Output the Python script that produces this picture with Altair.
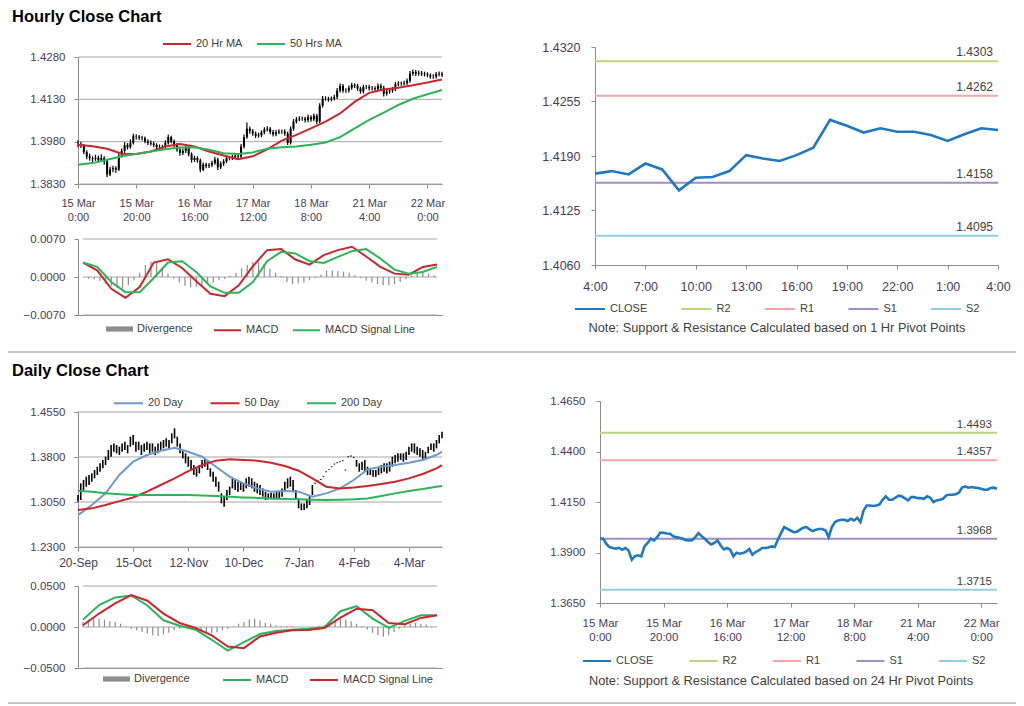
import altair as alt
import pandas as pd

FONT = "Liberation Sans"
AX = "#8c8c8c"
GR = "#a6a6a6"
LC = "#4a3c5c"
TC = "#404040"

TITLE_H = "Hourly Close Chart"
TITLE_D = "Daily Close Chart"
NOTE_H = "Note: Support & Resistance Calculated based on 1 Hr Pivot Points"
NOTE_D = "Note: Support & Resistance Calculated based on 24 Hr Pivot Points"

# ---------------- hourly bars (15 Mar 0:00 ... 22 Mar) ----------------
H_CLOSE = [1.3969,1.3968,1.3943,1.3927,1.3922,1.3919,1.3923,1.3914,1.3922,1.3910,
           1.3864,1.3882,1.3886,1.3881,1.3930,1.3947,1.3968,1.3960,1.3976,1.3999,
           1.3998,1.3994,1.3993,1.3981,1.3976,1.3973,1.3968,1.3961,1.3960,1.3961,
           1.3976,1.3996,1.3981,1.3968,1.3952,1.3940,1.3947,1.3960,1.3935,1.3915,
           1.3922,1.3914,1.3881,1.3899,1.3894,1.3897,1.3904,1.3917,1.3889,1.3902,
           1.3910,1.3922,1.3922,1.3925,1.3930,1.3927,1.3963,1.3996,1.4026,1.4017,
           1.4009,1.4001,1.4003,1.4013,1.4023,1.4026,1.4014,1.4006,1.4013,1.4016,
           1.4016,1.4009,1.3976,1.4026,1.4051,1.4059,1.4062,1.4062,1.4056,1.4067,
           1.4059,1.4072,1.4051,1.4108,1.4133,1.4133,1.4130,1.4133,1.4138,1.4161,
           1.4178,1.4161,1.4161,1.4171,1.4181,1.4178,1.4168,1.4158,1.4174,1.4174,
           1.4169,1.4169,1.4166,1.4178,1.4171,1.4150,1.4158,1.4161,1.4166,1.4183,
           1.4186,1.4186,1.4188,1.4196,1.4221,1.4227,1.4221,1.4224,1.4221,1.4219,
           1.4216,1.4211,1.4211,1.4219,1.4221,1.4216]
H_HIGH = [1.3985,1.3980,1.3972,1.3950,1.3938,1.3930,1.3934,1.3931,1.3935,1.3928,
          1.3915,1.3890,1.3895,1.3893,1.3938,1.3956,1.3978,1.3975,1.3988,1.4008,
          1.4006,1.4004,1.4001,1.3998,1.3989,1.3984,1.3980,1.3974,1.3970,1.3969,
          1.3985,1.4005,1.4001,1.3988,1.3975,1.3958,1.3955,1.3968,1.3966,1.3942,
          1.3930,1.3928,1.3920,1.3906,1.3905,1.3904,1.3912,1.3926,1.3923,1.3910,
          1.3918,1.3930,1.3929,1.3933,1.3938,1.3936,1.3972,1.4005,1.4048,1.4034,
          1.4025,1.4016,1.4012,1.4020,1.4031,1.4035,1.4032,1.4021,1.4021,1.4024,
          1.4023,1.4024,1.4015,1.4034,1.4060,1.4067,1.4070,1.4069,1.4068,1.4076,
          1.4074,1.4080,1.4078,1.4116,1.4142,1.4141,1.4139,1.4140,1.4146,1.4170,
          1.4186,1.4184,1.4169,1.4179,1.4189,1.4187,1.4185,1.4175,1.4182,1.4181,
          1.4182,1.4177,1.4176,1.4186,1.4185,1.4178,1.4166,1.4169,1.4174,1.4192,
          1.4194,1.4193,1.4196,1.4204,1.4230,1.4236,1.4234,1.4232,1.4230,1.4228,
          1.4226,1.4222,1.4219,1.4227,1.4229,1.4228]
H_LOW = [1.3960,1.3958,1.3936,1.3918,1.3912,1.3908,1.3912,1.3905,1.3908,1.3898,
         1.3855,1.3858,1.3872,1.3870,1.3876,1.3924,1.3940,1.3952,1.3955,1.3970,
         1.3988,1.3986,1.3984,1.3974,1.3968,1.3966,1.3960,1.3953,1.3951,1.3952,
         1.3956,1.3970,1.3974,1.3960,1.3944,1.3930,1.3933,1.3940,1.3928,1.3906,
         1.3908,1.3905,1.3872,1.3875,1.3886,1.3887,1.3890,1.3898,1.3880,1.3883,
         1.3895,1.3904,1.3914,1.3915,1.3918,1.3920,1.3922,1.3956,1.3990,1.4008,
         1.4001,1.3993,1.3994,1.3996,1.4006,1.4016,1.4006,1.3998,1.3999,1.4006,
         1.4008,1.4001,1.3968,1.3970,1.4019,1.4044,1.4052,1.4054,1.4048,1.4049,
         1.4051,1.4052,1.4043,1.4045,1.4101,1.4125,1.4122,1.4123,1.4126,1.4131,
         1.4154,1.4153,1.4153,1.4154,1.4164,1.4170,1.4160,1.4150,1.4151,1.4166,
         1.4161,1.4161,1.4158,1.4159,1.4163,1.4140,1.4143,1.4150,1.4153,1.4159,
         1.4176,1.4178,1.4179,1.4181,1.4189,1.4214,1.4213,1.4214,1.4213,1.4211,
         1.4208,1.4203,1.4203,1.4204,1.4212,1.4209]
H_TICK_POS = [0, 20, 40, 60, 80, 100, 120]
H_TICK_DAY = ["15 Mar", "15 Mar", "16 Mar", "17 Mar", "18 Mar", "21 Mar", "22 Mar"]
H_TICK_TIME = ["0:00", "20:00", "16:00", "12:00", "8:00", "4:00", "0:00"]

H_MA_POS = list(range(0, 126, 5))
H_MA20 = [1.3969,1.3964,1.3955,1.3937,1.3936,1.3945,1.3963,1.3972,1.3963,1.3945,1.3931,1.3918,1.3928,
          1.3953,1.3984,1.4004,1.4027,1.4051,1.4080,1.4121,1.4153,1.4165,1.4171,1.4180,1.4190,1.4200]
H_MA50 = [1.3898,1.3904,1.3916,1.3928,1.3936,1.3945,1.3953,1.3959,1.3960,1.3951,1.3939,1.3936,1.3942,
          1.3955,1.3960,1.3963,1.3969,1.3977,1.3996,1.4027,1.4057,1.4083,1.4110,1.4132,1.4148,1.4163]

H_MACD_POS = list(range(0, 126, 5))
H_MACD = [0.00266,0.00124,-0.00217,-0.00384,-0.00186,0.00266,0.00328,0.00167,-0.00080,-0.00310,-0.00353,
          -0.00155,0.00198,0.00495,0.00514,0.00322,0.00229,0.00402,0.00495,0.00557,0.00378,0.00186,
          0.00062,0.00043,0.00186,0.00229]
H_SIGNAL = [0.00266,0.00186,-0.00093,-0.00279,-0.00279,-0.00019,0.00266,0.00291,0.00093,-0.00173,-0.00291,
            -0.00291,-0.00093,0.00291,0.00464,0.00433,0.00291,0.00260,0.00371,0.00477,0.00514,0.00340,
            0.00136,0.00062,0.00093,0.00186]
H_DIV = [0,-0.0003,-0.0004,-0.0007,-0.0012,-0.0016,-0.0020,-0.0021,-0.0015,-0.0006,0.0008,0.0022,0.0028,
         0.0029,0.0018,0.0006,-0.0003,-0.0010,-0.0016,-0.0019,-0.0018,-0.0015,-0.0013,-0.0010,-0.0006,
         -0.0003,0.0002,0.0008,0.0016,0.0022,0.0027,0.0028,0.0024,0.0015,0.0008,0.0002,-0.0009,-0.0013,
         -0.0012,-0.0010,-0.0006,-0.0002,0.0004,0.0012,0.0012,0.0011,0.0010,0.0008,0.0003,-0.0002,-0.0007,
         -0.0010,-0.0013,-0.0015,-0.0015,-0.0013,-0.0009,-0.0004,0.0003,0.0007,0.0008,0.0006,0.0003]

# ---------------- last 25 hours with pivots ----------------
L_CLOSE = [1.4169,1.4172,1.4168,1.4181,1.4174,1.4149,1.4164,1.4165,1.4172,1.4191,1.4187,1.4184,1.4191,
           1.4200,1.4233,1.4226,1.4218,1.4223,1.4219,1.4219,1.4215,1.4208,1.4216,1.4223,1.4221]
L_TICK_POS = [0, 3, 6, 9, 12, 15, 18, 21, 24]
L_TICK_LABELS = ["4:00", "7:00", "10:00", "13:00", "16:00", "19:00", "22:00", "1:00", "4:00"]
LEVEL_NAMES = ["R2", "R1", "S1", "S2"]
L_LEVELS = [1.4303, 1.4262, 1.4158, 1.4095]
P_LEVELS = [1.4493, 1.4357, 1.3968, 1.3715]
SERIES_LVL = ["CLOSE", "R2", "R1", "S1", "S2"]
COLORS_LVL = ["#1f78c1", "#b9d77e", "#f2a7a7", "#a58cc6", "#8fd0e4"]

# ---------------- daily bars (20-Sep ... 22-Mar) ----------------
D_HIGH = [1.3166,1.3361,1.3416,1.3472,1.3500,1.3527,1.3583,1.3638,1.3694,1.3750,
          1.3805,1.3916,1.3999,1.4027,1.3999,1.3972,1.4027,1.4055,1.3999,1.4139,
          1.4166,1.4055,1.4055,1.3999,1.4027,1.4055,1.4027,1.4027,1.3972,1.4027,
          1.4055,1.4083,1.4111,1.4083,1.4194,1.4277,1.4139,1.4027,1.3916,1.3861,
          1.3805,1.3750,1.3666,1.3611,1.3666,1.3750,1.3777,1.3750,1.3611,1.3555,
          1.3472,1.3388,1.3194,1.3138,1.3249,1.3305,1.3444,1.3416,1.3388,1.3388,
          1.3361,1.3444,1.3472,1.3444,1.3388,1.3361,1.3333,1.3277,1.3222,1.3194,
          1.3205,1.3194,1.3222,1.3222,1.3277,1.3388,1.3444,1.3472,1.3416,1.3249,
          1.3110,1.3027,1.3027,1.3083,1.3166,1.3333,
          1.3369,1.3407,1.3435,1.3480,1.3563,1.3602,1.3646,1.3691,1.3713,1.3730,1.3747,1.3591,1.3813,1.3824,1.3802,
          1.3750,1.3694,1.3722,1.3750,1.3638,1.3611,1.3583,1.3583,1.3638,1.3666,
          1.3694,1.3694,1.3722,1.3805,1.3833,1.3861,1.3861,1.3861,1.3888,1.3972,
          1.4027,1.4027,1.3972,1.3944,1.3916,1.3888,1.3972,1.4027,1.4027,1.4083,
          1.4166,1.4222]
D_LOW = [1.3055,1.3083,1.3249,1.3305,1.3333,1.3388,1.3444,1.3500,1.3555,1.3611,
         1.3666,1.3750,1.3805,1.3888,1.3861,1.3833,1.3888,1.3916,1.3861,1.3972,
         1.3999,1.3888,1.3916,1.3833,1.3888,1.3916,1.3861,1.3888,1.3833,1.3861,
         1.3916,1.3944,1.3972,1.3944,1.4027,1.4111,1.3972,1.3861,1.3777,1.3694,
         1.3638,1.3583,1.3500,1.3472,1.3527,1.3611,1.3638,1.3583,1.3472,1.3388,
         1.3305,1.3222,1.3027,1.2971,1.3083,1.3166,1.3277,1.3249,1.3222,1.3249,
         1.3222,1.3277,1.3305,1.3277,1.3222,1.3194,1.3166,1.3138,1.3083,1.3094,
         1.3094,1.3094,1.3094,1.3110,1.3138,1.3222,1.3277,1.3305,1.3222,1.3083,
         1.2944,1.2916,1.2916,1.2944,1.2999,1.3166,
         1.3353,1.3391,1.3419,1.3464,1.3547,1.3586,1.3630,1.3675,1.3697,1.3714,1.3731,1.3575,1.3797,1.3808,1.3786,
         1.3638,1.3555,1.3583,1.3555,1.3500,1.3500,1.3472,1.3472,1.3500,1.3527,
         1.3555,1.3527,1.3555,1.3638,1.3694,1.3722,1.3750,1.3722,1.3750,1.3833,
         1.3888,1.3861,1.3833,1.3805,1.3750,1.3750,1.3861,1.3916,1.3888,1.3944,
         1.4027,1.4111]
D_TICK_POS = [0, 20, 40, 60, 80, 100, 120]
D_TICK_LABELS = ["20-Sep", "15-Oct", "12-Nov", "10-Dec", "7-Jan", "4-Feb", "4-Mar"]

D_MA_POS = list(range(0, 131, 5)) + [132]
D_MA20 = [1.2832,1.2999,1.3194,1.3500,1.3722,1.3833,1.3905,1.3955,1.3888,1.3805,1.3638,1.3472,1.3361,1.3277,
          1.3222,1.3233,1.3222,1.3138,1.3194,1.3277,1.3416,1.3594,1.3638,1.3666,1.3705,1.3750,1.3833,1.3888]
D_MA50 = [1.2916,1.2944,1.2999,1.3065,1.3126,1.3222,1.3333,1.3444,1.3566,1.3666,1.3739,1.3761,1.3750,1.3739,
          1.3705,1.3649,1.3571,1.3444,1.3305,1.3277,1.3293,1.3315,1.3349,1.3388,1.3444,1.3516,1.3611,1.3666]
D_MA200 = [1.3238,1.3222,1.3194,1.3180,1.3166,1.3166,1.3166,1.3166,1.3166,1.3158,1.3149,1.3138,1.3127,1.3118,
           1.3110,1.3102,1.3094,1.3088,1.3083,1.3088,1.3094,1.3110,1.3149,1.3194,1.3233,1.3266,1.3305,1.3316]

D_MACD_POS = list(range(0, 133, 6))
D_MACD = [0.0090,0.0267,0.0361,0.0385,0.0262,0.0082,0.0016,-0.0033,-0.0156,-0.0287,-0.0185,-0.0086,
          -0.0049,-0.0033,-0.0021,-0.0004,0.0193,0.0254,0.0103,-0.0012,0.0074,0.0144,0.0144]
D_SIGNAL = [0.0021,0.0164,0.0287,0.0390,0.0320,0.0164,0.0049,-0.0012,-0.0103,-0.0238,-0.0258,-0.0115,
            -0.0070,-0.0041,-0.0037,-0.0012,0.0115,0.0221,0.0205,0.0049,0.0033,0.0111,0.0144]
D_DIV = [0.006,0.009,0.010,0.010,0.009,0.007,0.006,0.004,0.001,-0.002,-0.004,-0.006,-0.008,-0.010,-0.011,
         -0.009,-0.007,-0.004,-0.002,-0.001,-0.001,-0.002,-0.004,-0.007,-0.008,-0.006,-0.004,-0.002,0.001,
         0.004,0.006,0.009,0.010,0.008,0.005,0.004,0.002,0.001,0.001,0.001,0.000,0.000,0.000,0.000,0.001,
         0.002,0.005,0.008,0.010,0.009,0.007,0.004,0.001,-0.003,-0.007,-0.010,-0.012,-0.010,-0.006,-0.002,
         0.002,0.004,0.005,0.004,0.003,0.001,0.000]

RED = "#c8282d"
GREEN = "#2eb35a"
BLUE_MA = "#6e9acd"
DIV_C = "#8c8c8c"
RECT_PATH = "M-1,-0.19H1V0.19H-1Z"

W, H = 1008, 696   # whole canvas (page minus 8px margin)


def label_expr(pos, labels):
    parts = []
    for p, lab in zip(pos, labels):
        if isinstance(lab, (list, tuple)):
            txt = "[" + ",".join("'%s'" % s for s in lab) + "]"
        else:
            txt = "'%s'" % lab
        parts.append("datum.value == %d ? %s : " % (p, txt))
    return "".join(parts) + "''"


def x_axis(pos, labels, size, pad, bottom, line_height=None):
    kw = dict(orient="bottom", offset=-(H - bottom), values=pos, labelExpr=label_expr(pos, labels),
              labelFontSize=size, labelPadding=pad, labelColor=LC, labelFont=FONT, tickSize=4,
              tickColor=AX, domainColor=AX, grid=False, title=None, labelFlush=False,
              labelOverlap=False, labelAngle=0, labelBound=False)
    if line_height:
        kw["labelLineHeight"] = line_height
    return alt.Axis(**kw)


def x_plain(bottom):
    return alt.Axis(orient="bottom", offset=-(H - bottom), labels=False, ticks=False, grid=False,
                    domainColor=AX, title=None)


def y_axis(values, size, pad, left):
    return alt.Axis(orient="left", offset=-left, values=values, format=".4f", labelFontSize=size,
                    labelPadding=pad, labelColor=LC, labelFont=FONT, tickSize=4, tickColor=AX,
                    domainColor=AX, grid=False, title=None, labelFlush=False, labelOverlap=False)


def line_legend(x, y, size, pad):
    return alt.Legend(orient="none", legendX=x, legendY=y, direction="horizontal", symbolType="stroke",
                      symbolSize=size, symbolStrokeWidth=2, labelFontSize=11, labelFont=FONT,
                      labelColor=TC, columnPadding=pad, labelOffset=4, padding=0, title=None)


def fill_legend(x, y):
    return alt.Legend(orient="none", legendX=x, legendY=y, direction="horizontal", symbolType=RECT_PATH,
                      symbolSize=729, symbolStrokeWidth=0, labelFontSize=11, labelFont=FONT,
                      labelColor=TC, labelOffset=4, padding=0, title=None)


def grid_layer(values, xmax, xs, ys, xa, ya):
    g = pd.DataFrame({"g": values, "x0": 0, "x1": xmax})
    return alt.Chart(g).mark_rule(color=GR, strokeWidth=1).encode(
        x=alt.X("x0:Q", scale=xs, axis=xa), x2="x1:Q", y=alt.Y("g:Q", scale=ys, axis=ya))


def price_panel(high, low, close, xmax, xr, ydom, yr, yvals, xa, ma_pos, ma_series, ma_names,
                ma_colors, leg, wick_w):
    n = len(high)
    xs = alt.Scale(domain=[0, xmax], range=xr, nice=False, zero=False)
    ys = alt.Scale(domain=ydom, range=yr, nice=False, zero=False)
    ya = y_axis(yvals, 11.5, 9, xr[0])
    df = pd.DataFrame({"i": list(range(n)), "high": high, "low": low})
    layers = [grid_layer(yvals, xmax, xs, ys, xa, ya),
              alt.Chart(df).mark_rule(color="black", strokeWidth=wick_w).encode(
                  x=alt.X("i:Q", scale=xs, axis=xa), y=alt.Y("low:Q", scale=ys, axis=ya), y2="high:Q")]
    if close is not None:
        bdf = pd.DataFrame({"i": list(range(n)), "c": close})
        bdf["o"] = bdf["c"].shift(1).fillna(bdf["c"])
        layers.append(alt.Chart(bdf).mark_rule(color="black", strokeWidth=2).encode(
            x=alt.X("i:Q", scale=xs, axis=xa), y=alt.Y("o:Q", scale=ys, axis=ya), y2="c:Q"))
    rows = []
    for name, vals in zip(ma_names, ma_series):
        for p, v in zip(ma_pos, vals):
            rows.append({"i": p, "v": v, "s": name})
    layers.append(alt.Chart(pd.DataFrame(rows)).mark_line(strokeWidth=2).encode(
        x=alt.X("i:Q", scale=xs, axis=xa), y=alt.Y("v:Q", scale=ys, axis=ya),
        color=alt.Color("s:N", scale=alt.Scale(domain=ma_names, range=ma_colors), legend=leg)))
    return alt.layer(*layers)


def macd_panel(pos, macd, sig, div_vals, xmax, xr, lim, yr, names, colors, fill_leg, color_leg):
    xs = alt.Scale(domain=[0, xmax], range=xr, nice=False, zero=False)
    ys = alt.Scale(domain=[-lim, lim], range=yr, nice=False, zero=False)
    xa = x_plain(yr[0])
    ya = y_axis([-lim, 0, lim], 11.5, 9, xr[0])
    ddf = pd.DataFrame({"i": list(range(0, 2 * len(div_vals), 2)), "dv": div_vals, "n": "Divergence"})
    rows = []
    for name, vals in zip(names, [macd, sig]):
        for p, v in zip(pos, vals):
            rows.append({"i": p, "v": v, "s": name})
    bars = alt.Chart(ddf).mark_bar(size=1.2).encode(
        x=alt.X("i:Q", scale=xs, axis=xa), y=alt.Y("dv:Q", scale=ys, axis=ya), y2=alt.datum(0),
        fill=alt.Fill("n:N", scale=alt.Scale(domain=["Divergence"], range=[DIV_C]), legend=fill_leg))
    lines = alt.Chart(pd.DataFrame(rows)).mark_line(strokeWidth=2).encode(
        x=alt.X("i:Q", scale=xs, axis=xa), y=alt.Y("v:Q", scale=ys, axis=ya),
        color=alt.Color("s:N", scale=alt.Scale(domain=names, range=colors), legend=color_leg))
    return alt.layer(grid_layer([-lim, 0, lim], xmax, xs, ys, xa, ya), bars, lines)


def pivot_panel(close, levels, xmax, xr, ydom, yr, yvals, xa, ysize, lsize, leg):
    xs = alt.Scale(domain=[0, xmax], range=xr, nice=False, zero=False)
    ys = alt.Scale(domain=ydom, range=yr, nice=False, zero=False)
    ya = alt.Axis(orient="left", offset=-xr[0], values=yvals, format=".4f", labelFontSize=ysize,
                  labelPadding=11, labelColor=LC, labelFont=FONT, tickSize=4, tickColor=AX,
                  domainColor=AX, grid=False, title=None, labelFlush=False, labelOverlap=False)
    cs = alt.Scale(domain=SERIES_LVL, range=COLORS_LVL)
    cdf = pd.DataFrame({"i": list(range(len(close))), "v": close, "s": "CLOSE"})
    ldf = pd.DataFrame({"s": LEVEL_NAMES, "v": levels})
    ldf["label"] = ldf["v"].map(lambda x: "%.4f" % x)
    ldf["x0"] = 0
    ldf["x1"] = xmax
    rules = alt.Chart(ldf).mark_rule(strokeWidth=2).encode(
        x=alt.X("x0:Q", scale=xs, axis=xa), x2="x1:Q",
        y=alt.Y("v:Q", scale=ys, axis=ya), color=alt.Color("s:N", scale=cs, legend=leg))
    line = alt.Chart(cdf).mark_line(strokeWidth=2.6).encode(
        x=alt.X("i:Q", scale=xs, axis=xa), y=alt.Y("v:Q", scale=ys, axis=ya),
        color=alt.Color("s:N", scale=cs, legend=leg))
    texts = alt.Chart(ldf).mark_text(align="right", baseline="alphabetic", dx=-5, dy=-5, fontSize=lsize,
                                     font=FONT, color=TC).encode(
        x=alt.X("x1:Q", scale=xs, axis=xa), y=alt.Y("v:Q", scale=ys, axis=ya), text="label:N")
    return alt.layer(rules, line, texts)


def text_at(t, x, y, size, weight="normal", align="left", baseline="top", color="black"):
    return alt.Chart(pd.DataFrame({"t": [t]})).mark_text(
        align=align, baseline=baseline, fontSize=size, fontWeight=weight, font=FONT, color=color
    ).encode(text="t:N", x=alt.value(x), y=alt.value(y))


def separator(y):
    return alt.Chart(pd.DataFrame({"t": [0]})).mark_rule(color="#8c8c8c", strokeWidth=1).encode(
        x=alt.value(0), x2=alt.value(W), y=alt.value(y))


# ---------------- panels (canvas coordinates = page - 8) ----------------
H_LABELS2 = [[d, t] for d, t in zip(H_TICK_DAY, H_TICK_TIME)]

price1 = price_panel(
    H_HIGH, H_LOW, H_CLOSE, 125, [70, 434], [1.383, 1.428], [176, 49], [1.383, 1.398, 1.413, 1.428],
    x_axis(H_TICK_POS, H_LABELS2, 11, 9, 176, 14),
    H_MA_POS, [H_MA20, H_MA50], ["20 Hr MA", "50 Hrs MA"], [RED, GREEN],
    line_legend(154, 21, 784, 10), 1.2)
macd1 = macd_panel(H_MACD_POS, H_MACD, H_SIGNAL, H_DIV, 125, [70, 434], 0.007, [307, 231],
                   ["MACD", "MACD Signal Line"], [RED, GREEN],
                   fill_legend(98, 307.5), line_legend(205, 307.5, 729, 10))
right1 = pivot_panel(
    L_CLOSE, L_LEVELS, 24, [587, 990], [1.406, 1.432], [257, 39], [1.406, 1.4125, 1.419, 1.4255, 1.432],
    x_axis(L_TICK_POS, L_TICK_LABELS, 12.5, 11, 257), 12.5, 12,
    line_legend(566, 285, 900, 29.5))

price2 = price_panel(
    D_HIGH, D_LOW, None, 132, [70, 434], [1.23, 1.455], [539, 404], [1.23, 1.305, 1.38, 1.455],
    x_axis(D_TICK_POS, D_TICK_LABELS, 12, 6, 539),
    D_MA_POS, [D_MA20, D_MA50, D_MA200], ["20 Day", "50 Day", "200 Day"], [BLUE_MA, RED, GREEN],
    line_legend(105, 379.5, 841, 23.5), 1.6)
macd2 = macd_panel(D_MACD_POS, D_MACD, D_SIGNAL, D_DIV, 132, [70, 434], 0.05, [660, 578],
                   ["MACD", "MACD Signal Line"], [GREEN, RED],
                   fill_legend(95, 657.5), line_legend(214, 657, 784, 17))
right2 = pivot_panel(
    H_CLOSE, P_LEVELS, 125, [592, 989], [1.365, 1.465], [595, 393], [1.365, 1.39, 1.415, 1.44, 1.465],
    x_axis(H_TICK_POS, H_LABELS2, 11.5, 10, 595, 14), 11.5, 11.5,
    line_legend(574, 638, 784, 31.5))

decor = alt.layer(
    text_at(TITLE_H, 4, 1, 16.5, "bold"),
    text_at(TITLE_D, 4, 355, 16.5, "bold"),
    text_at(NOTE_H, 769, 320, 12.8, align="center", baseline="middle", color=TC),
    text_at(NOTE_D, 773, 673, 12.8, align="center", baseline="middle", color=TC),
    separator(344),
    separator(695),
)

chart = alt.layer(price1, macd1, right1, price2, macd2, right2, decor).resolve_scale(
    x="independent", y="independent", color="independent", fill="independent"
).properties(
    width=W, height=H, padding=0, autosize=alt.AutoSizeParams(type="none")
).configure(font=FONT).configure_view(stroke="transparent")

chart.save("out.html", embed_options={"renderer": "svg", "actions": False})
